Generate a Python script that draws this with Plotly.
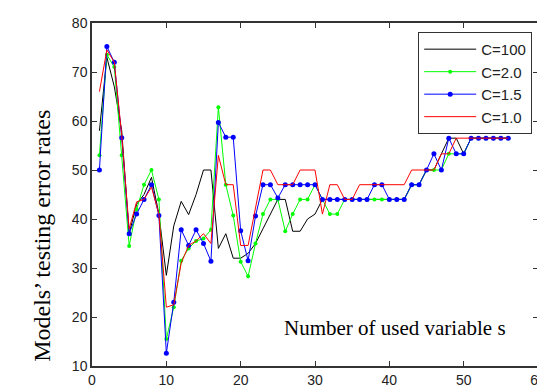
import plotly.graph_objects as go

x_vars = list(range(1, 57))

c100 = [58, 73, 67, 58, 37, 43, 45, 48.5, 41, 28.5,
        38.6, 43.6, 40.9, 45, 50, 50, 34, 37, 32, 32,
        33, 35, 38, 41, 44, 44, 37.5, 37.5, 40, 41,
        44, 44, 44, 44, 44, 44, 44, 44, 44, 44,
        44, 44, 47, 47, 50, 50, 53.3, 56.5, 56.5, 53.3,
        56.5, 56.5, 56.5, 56.5, 56.5, 56.5]

c2_0 = [53, 73.5, 71, 53, 34.5, 42, 47, 50, 44, 15.5,
        22, 31.5, 34, 35.5, 36, 37.8, 62.8, 47, 40.7, 31.3,
        28.3, 35, 41, 44, 44, 37.5, 41, 44, 44, 47,
        44, 41, 41, 44, 44, 44, 44, 44, 44, 44,
        44, 44, 47, 47, 50, 50, 50, 53.3, 53.3, 53.3,
        56.5, 56.5, 56.5, 56.5, 56.5, 56.5]

c1_5 = [50, 75.2, 72, 56.6, 37, 41, 44, 47, 40.7, 12.6,
        23, 37.8, 34.6, 37.8, 35, 31.4, 59.7, 56.7, 56.7, 37.6,
        31.5, 40.6, 47, 47, 44.3, 47, 47, 47, 47, 47,
        44, 44, 44, 44, 44, 44, 44, 47, 47, 44,
        44, 44, 47, 47, 50, 53.3, 50, 56.5, 53.3, 53.3,
        56.5, 56.5, 56.5, 56.5, 56.5, 56.5]

c1_0 = [66, 74.5, 72, 57, 38, 43.5, 44, 46.5, 41, 22,
        22.5, 31, 34.6, 35.5, 37, 35, 53, 47, 47, 34.6,
        34.6, 42, 50, 50, 47, 47, 47, 50, 50, 50,
        41, 47, 47, 44, 44, 47, 47, 47, 47, 47,
        47, 47, 50, 50, 50, 50, 53.3, 53.3, 56.5, 56.5,
        56.5, 56.5, 56.5, 56.5, 56.5, 56.5]

series_names = ["C=100", "C=2.0", "C=1.5", "C=1.0"]
x_ticks = [0, 10, 20, 30, 40, 50, 60]
y_ticks = [10, 20, 30, 40, 50, 60, 70, 80]

fig = go.Figure()
fig.add_trace(go.Scatter(x=x_vars, y=c100, name=series_names[0], mode="lines",
                         line=dict(color="#000000", width=1)))
fig.add_trace(go.Scatter(x=x_vars, y=c2_0, name=series_names[1], mode="lines+markers",
                         line=dict(color="#00ff00", width=1),
                         marker=dict(color="#00ff00", size=4, symbol="circle")))
fig.add_trace(go.Scatter(x=x_vars, y=c1_5, name=series_names[2], mode="lines+markers",
                         line=dict(color="#0000ff", width=1),
                         marker=dict(color="#0000ff", size=5, symbol="circle")))
fig.add_trace(go.Scatter(x=x_vars, y=c1_0, name=series_names[3], mode="lines",
                         line=dict(color="#ff0000", width=1)))

axis_common = dict(showgrid=False, zeroline=False, showline=True, mirror="ticks",
                   linecolor="#333333", linewidth=1.5, ticks="inside", ticklen=5,
                   tickcolor="#333333", tickfont=dict(family="Liberation Sans, Arial", size=14, color="#222222"))

fig.update_xaxes(range=[0, 60], tickvals=x_ticks, **axis_common)
fig.update_yaxes(range=[10, 80], tickvals=y_ticks, **axis_common)

fig.add_annotation(text="Number of used variable s", x=40.8, y=17.8, xref="x", yref="y",
                   showarrow=False, font=dict(family="Liberation Serif, Times New Roman", size=21, color="#000000"))
fig.add_annotation(text="Models\u2019 testing error rates",
                   x=(17 - 84) / (545 - 84 - 7), y=(363 - 230) / (363 - 13),
                   xref="paper", yref="paper",
                   showarrow=False, textangle=-90,
                   font=dict(family="Liberation Serif, Times New Roman", size=24, color="#000000"))

fig.update_layout(
    width=545, height=387,
    margin=dict(l=84, r=7, t=13, b=24),
    paper_bgcolor="white", plot_bgcolor="white",
    showlegend=True,
    legend=dict(x=0.987, y=0.974, xanchor="right", yanchor="top",
                bgcolor="white", bordercolor="#333333", borderwidth=1,
                font=dict(family="Liberation Sans, Arial", size=15, color="#222222"),
                itemwidth=52),
)

fig.write_html("out.html")
